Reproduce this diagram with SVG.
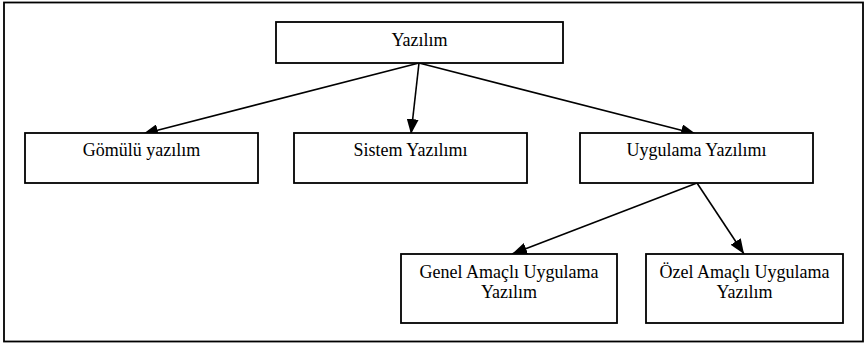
<svg xmlns="http://www.w3.org/2000/svg" width="865" height="344" viewBox="0 0 865 344">
<defs>
<style>
.box{fill:#fff;stroke:#000;stroke-width:1.8}
.t{font-family:"Liberation Serif","Times New Roman",serif;font-size:18px;fill:#000;text-anchor:middle}
.c{stroke:#000;stroke-width:1.6;fill:none;marker-end:url(#ah)}
</style>
<marker id="ah" markerWidth="15" markerHeight="12" refX="15" refY="6" orient="auto" markerUnits="userSpaceOnUse">
<path d="M0,0 L15,6 L0,12 Z" fill="#000"/>
</marker>
</defs>
<rect x="0" y="0" width="865" height="344" fill="#fff"/>
<rect x="4" y="2.5" width="859" height="339" fill="none" stroke="#000" stroke-width="1.8"/>
<g id="connectors">
<line class="c" x1="419" y1="63" x2="143" y2="134"/>
<line class="c" x1="419" y1="63" x2="411" y2="134"/>
<line class="c" x1="419" y1="63" x2="696" y2="134"/>
<line class="c" x1="697" y1="183" x2="512" y2="254"/>
<line class="c" x1="697" y1="183" x2="744" y2="254"/>
</g>
<g id="yazilim"><rect class="box" x="276" y="22" width="287" height="41"/><text class="t" x="419.5" y="46">Yazılım</text></g>
<g id="gomulu"><rect class="box" x="25" y="133" width="233" height="50"/><text class="t" x="141.5" y="156">Gömülü yazılım</text></g>
<g id="sistem"><rect class="box" x="294" y="133" width="233" height="50"/><text class="t" x="410.5" y="156">Sistem Yazılımı</text></g>
<g id="uygulama"><rect class="box" x="580" y="133" width="233" height="50"/><text class="t" x="696.5" y="156">Uygulama Yazılımı</text></g>
<g id="genel"><rect class="box" x="401" y="254" width="216" height="69"/><text class="t" x="509" y="278">Genel Amaçlı Uygulama</text><text class="t" x="509" y="298">Yazılım</text></g>
<g id="ozel"><rect class="box" x="646" y="254" width="197" height="69"/><text class="t" x="744.5" y="278">Özel Amaçlı Uygulama</text><text class="t" x="744.5" y="298">Yazılım</text></g>
</svg>
